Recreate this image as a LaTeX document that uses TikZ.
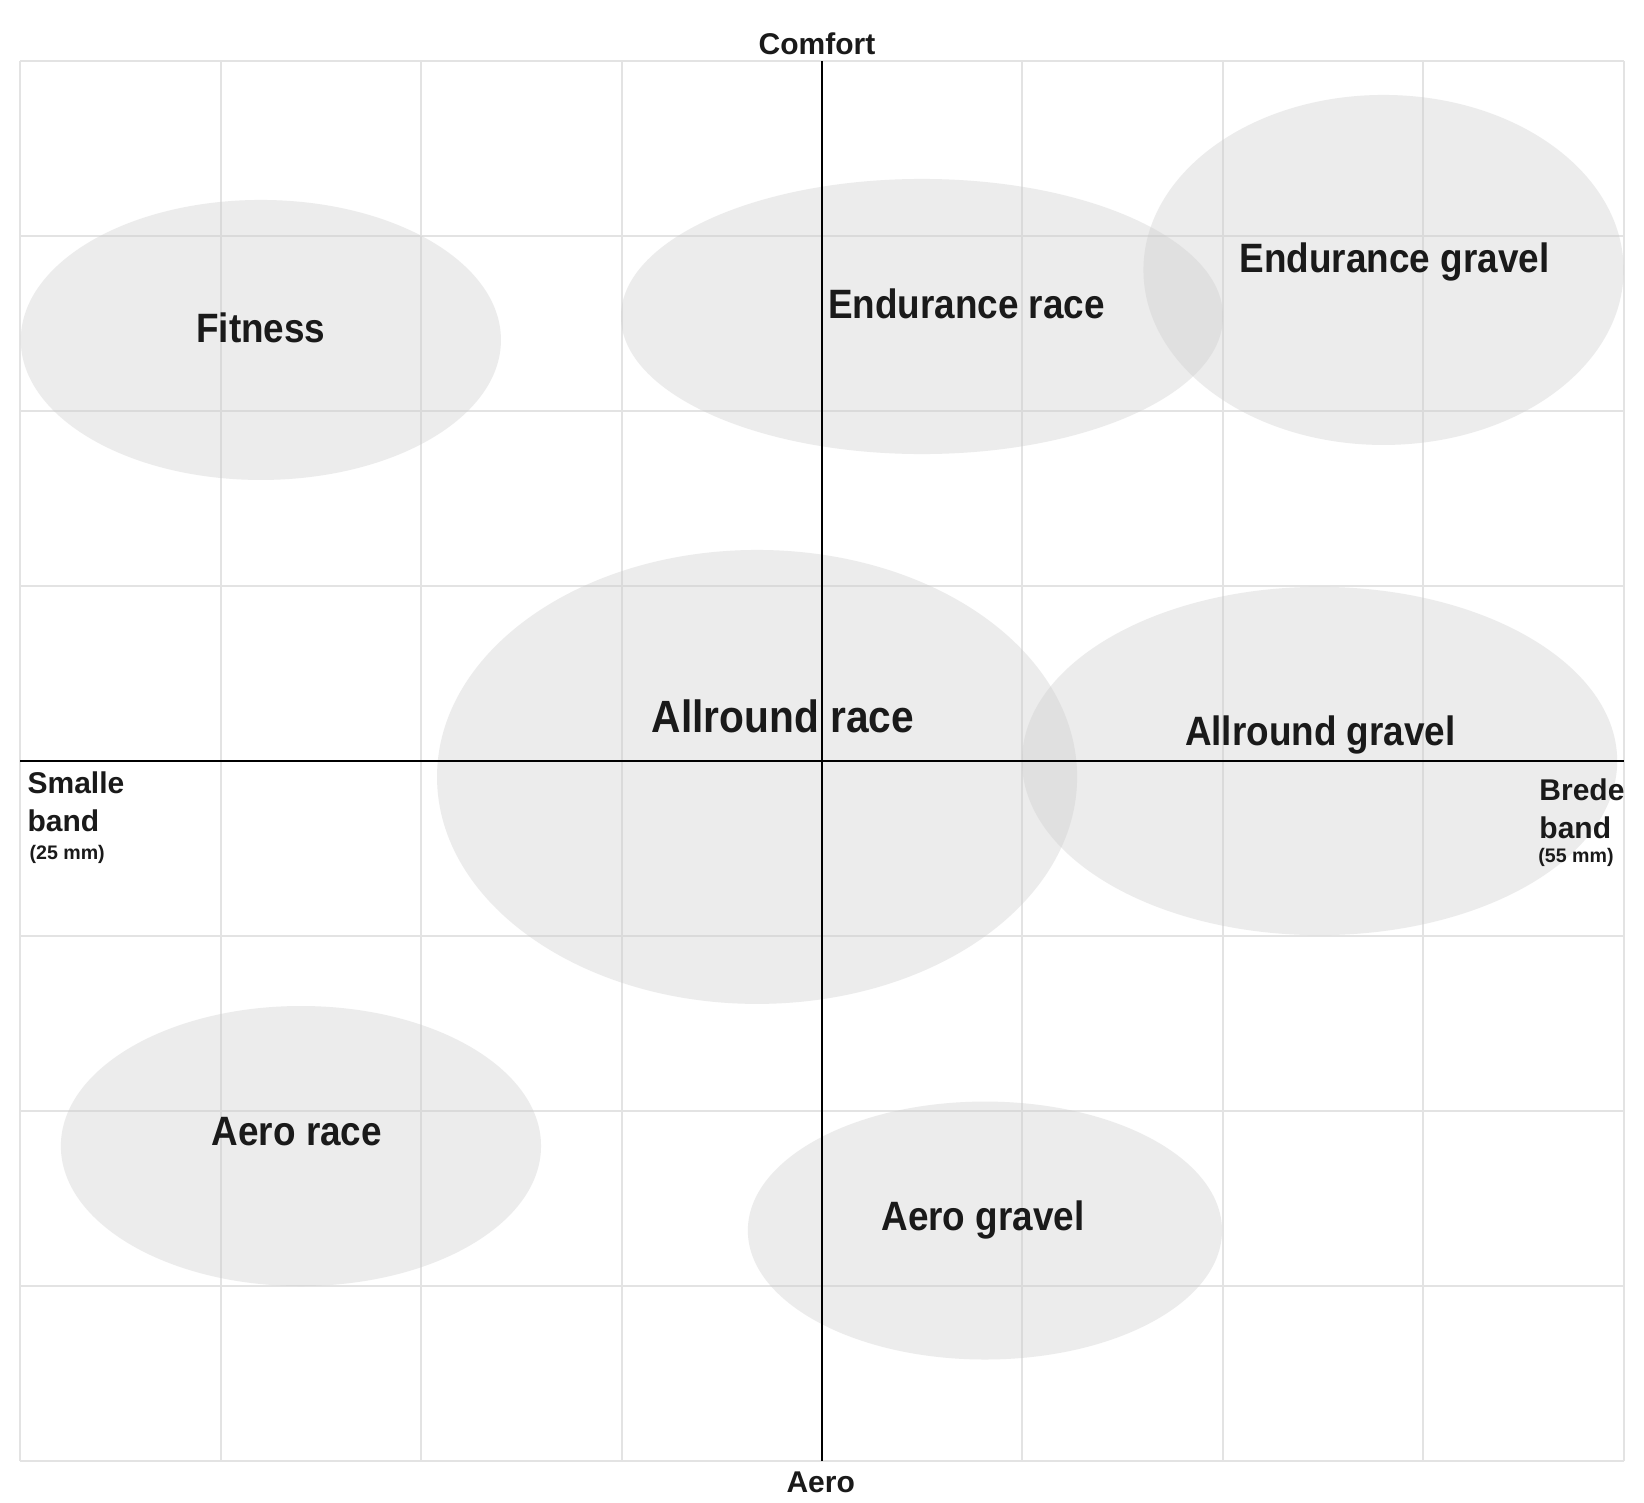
\documentclass[tikz,border=0pt]{standalone}
\usepackage{fontspec}
\setmainfont{Liberation Sans}
\newfontfamily\zonefont{Liberation Sans}[FakeStretch=0.9]
\definecolor{zonegray}{HTML}{CCCCCC}
\definecolor{rastergray}{HTML}{E3E3E3}
\definecolor{inkt}{HTML}{1A1A1A}

\begin{document}
\begin{tikzpicture}[x=100.2pt,y=87.5pt,
  raster/.style={draw=rastergray,line width=1pt},
  as/.style={draw=black,line width=1pt},
  zone/.style={fill=zonegray,fill opacity=0.37},
  zonelabel/.style={inner sep=0pt,anchor=base,text=inkt,font=\zonefont\bfseries\fontsize{20.5}{24}\selectfont},
  biglabel/.style={zonelabel,font=\zonefont\bfseries\fontsize{22.6}{26}\selectfont},
  aslabel/.style={inner sep=0pt,anchor=base,text=inkt,font=\bfseries\fontsize{15}{18}\selectfont},
  kantlabel/.style={inner sep=0pt,anchor=base west,text=inkt,font=\bfseries\fontsize{15}{18}\selectfont},
  mmlabel/.style={inner sep=0pt,anchor=base west,text=inkt,font=\bfseries\fontsize{9.8}{12}\selectfont}]

\fill[white] (-4.1018,-4.2343) rectangle (4.1018,4.3486) ;

% raster
\draw[raster](-4,-4)--(-4,4) ;
\draw[raster](-3,-4)--(-3,4) ;
\draw[raster](-2,-4)--(-2,4) ;
\draw[raster](-1,-4)--(-1,4) ;
\draw[raster](1,-4)--(1,4) ;
\draw[raster](2,-4)--(2,4) ;
\draw[raster](3,-4)--(3,4) ;
\draw[raster](4,-4)--(4,4) ;
\draw[raster](-4,-4)--(4,-4) ;
\draw[raster](-4,-3)--(4,-3) ;
\draw[raster](-4,-2)--(4,-2) ;
\draw[raster](-4,-1)--(4,-1) ;
\draw[raster](-4,1)--(4,1) ;
\draw[raster](-4,2)--(4,2) ;
\draw[raster](-4,3)--(4,3) ;
\draw[raster](-4,4)--(4,4) ;

% zones
\fill[zone] (-2.8,2.406) ellipse (1.198 and 0.8) ;
\fill[zone] (0.499,2.54) ellipse (1.502 and 0.786) ;
\fill[zone] (2.802,2.806) ellipse (1.198 and 1.0) ;
\fill[zone] (-0.324,-0.091) ellipse (1.597 and 1.297) ;
\fill[zone] (2.483,0) ellipse (1.485 and 0.995) ;
\fill[zone] (-2.6,-2.2) ellipse (1.198 and 0.8) ;
\fill[zone] (0.813,-2.683) ellipse (1.183 and 0.737) ;

\draw (-2.8,2.394) node[zonelabel] (fitness) {Fitness} ;
\draw (0.721,2.531) node[zonelabel] (endrace) {Endurance race} ;
\draw (2.857,2.794) node[zonelabel] (endgravel) {Endurance gravel} ;
\draw (-0.195,0.164) node[biglabel] (allrace) {Allround race} ;
\draw (2.487,0.086) node[zonelabel] (allgravel) {Allround gravel} ;
\draw (-2.62,-2.198) node[zonelabel] (aerorace) {Aero race} ;
\draw (0.803,-2.68) node[zonelabel] (aerogravel) {Aero gravel} ;

% assen
\draw[as](-4,0)--(4,0) ;
\draw[as](0,-4)--(0,4) ;

\draw (-0.025,4.04) node[aslabel] (comfort) {Comfort} ;
\draw (-0.0065,-4.181) node[aslabel] (aero) {Aero} ;

\draw (-3.966,-0.185) node[kantlabel] (smalle) {Smalle} ;
\draw (-3.966,-0.4) node[kantlabel] (smalleband) {band} ;
\draw (-3.956,-0.562) node[mmlabel] (smallemm) {(25 mm)} ;
\draw (3.578,-0.227) node[kantlabel] (brede) {Brede} ;
\draw (3.578,-0.442) node[kantlabel] (bredeband) {band} ;
\draw (3.573,-0.579) node[mmlabel] (bredemm) {(55 mm)} ;
\end{tikzpicture}
\end{document}
